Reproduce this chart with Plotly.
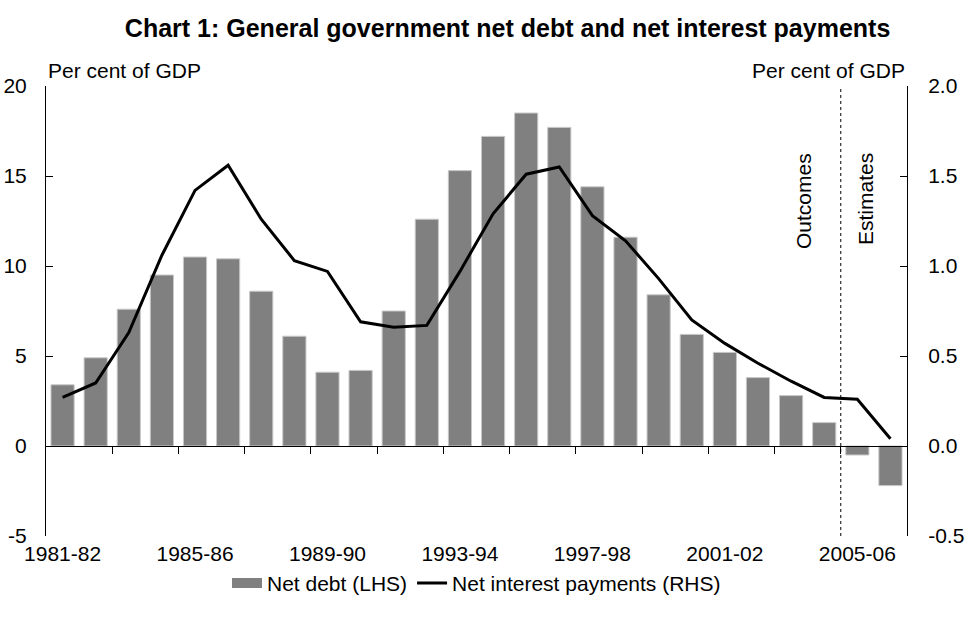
import numpy as np
import plotly.graph_objects as go

# Financial years shown on the category axis
years = [
    "1981-82", "1982-83", "1983-84", "1984-85", "1985-86", "1986-87",
    "1987-88", "1988-89", "1989-90", "1990-91", "1991-92", "1992-93",
    "1993-94", "1994-95", "1995-96", "1996-97", "1997-98", "1998-99",
    "1999-00", "2000-01", "2001-02", "2002-03", "2003-04", "2004-05",
    "2005-06", "2006-07",
]

# General government net debt, per cent of GDP (left axis)
net_debt = [
    3.4, 4.9, 7.6, 9.5, 10.5, 10.4, 8.6, 6.1, 4.1, 4.2, 7.5, 12.6,
    15.3, 17.2, 18.5, 17.7, 14.4, 11.6, 8.4, 6.2, 5.2, 3.8, 2.8, 1.3,
    -0.5, -2.2,
]

# Net interest payments, per cent of GDP (right axis)
net_interest = [
    0.27, 0.35, 0.63, 1.06, 1.42, 1.56, 1.26, 1.03, 0.97, 0.69, 0.66, 0.67,
    0.97, 1.29, 1.51, 1.55, 1.28, 1.14, 0.93, 0.70, 0.57, 0.46, 0.36, 0.27,
    0.26, 0.04,
]

# First year that is a budget estimate rather than an outcome
first_estimate = "2005-06"

# Axis tick values
left_ticks = [-5, 0, 5, 10, 15, 20]
right_ticks = [-0.5, 0.0, 0.5, 1.0, 1.5, 2.0]

FONT = "Liberation Sans, Arial, sans-serif"
FS = 21
BAR_COLOR = "#808080"

left_range = [left_ticks[0], left_ticks[-1]]
right_range = [right_ticks[0], right_ticks[-1]]

idx = np.arange(len(years))
label_idx = idx[::4]
boundary_ticks = np.arange(1.5, len(years), 2)
split_x = years.index(first_estimate) - 0.5
zero_pos = (0 - left_range[0]) / (left_range[1] - left_range[0])
x_range = [-0.5, len(years) - 0.5]

fig = go.Figure()

fig.add_trace(go.Bar(
    x=idx, y=net_debt, name="Net debt (LHS)", showlegend=False,
    marker=dict(color=BAR_COLOR, line=dict(color="#c8c8c8", width=1)),
    width=0.7, xaxis="x", yaxis="y",
))

# Legend key for the bars: a wide grey block
fig.add_trace(go.Scatter(
    x=[None], y=[None], name="Net debt (LHS)", mode="lines",
    line=dict(color=BAR_COLOR, width=18), xaxis="x", yaxis="y",
))

fig.add_trace(go.Scatter(
    x=idx, y=net_interest, name="Net interest payments (RHS)",
    mode="lines", line=dict(color="black", width=3),
    xaxis="x2", yaxis="y2",
))

fig.update_layout(
    width=965, height=619,
    margin=dict(l=46, r=58, t=86, b=83, autoexpand=False),
    paper_bgcolor="white", plot_bgcolor="white",
    font=dict(family=FONT, size=FS, color="black"),
    title=dict(
        text="<b>Chart 1: General government net debt and net interest payments</b>",
        x=0.526, xanchor="center", xref="container",
        y=0.955, yanchor="middle",
        font=dict(family=FONT, size=25, color="black"),
    ),
    showlegend=True,
    legend=dict(
        orientation="h", x=0.5, xanchor="center", xref="paper",
        y=-0.105, yanchor="middle", bgcolor="rgba(0,0,0,0)",
        font=dict(family=FONT, size=FS), traceorder="normal",
        itemwidth=30,
    ),
    xaxis=dict(
        range=x_range, tickmode="array", tickvals=label_idx,
        ticktext=[years[i] for i in label_idx],
        ticks="", showline=False, showgrid=False, zeroline=False,
        tickfont=dict(size=FS), ticklabelstandoff=3,
    ),
    xaxis2=dict(
        range=x_range, overlaying="x", anchor="free", position=zero_pos,
        tickmode="array", tickvals=boundary_ticks, ticks="outside",
        ticklen=7, tickcolor="black", tickwidth=1,
        showticklabels=False, showline=True, linecolor="black",
        linewidth=1, showgrid=False, zeroline=False,
    ),
    yaxis=dict(
        range=left_range, tickmode="array", tickvals=left_ticks,
        ticktext=[f"{v:g}" for v in left_ticks],
        ticks="inside", ticklen=7,
        tickcolor="black", showline=True, linecolor="black", linewidth=1,
        showgrid=False, zeroline=False, tickfont=dict(size=FS),
        ticklabelstandoff=14,
    ),
    yaxis2=dict(
        range=right_range, tickmode="array", tickvals=right_ticks,
        ticktext=[f"{v:.1f}" for v in right_ticks],
        overlaying="y", side="right", anchor="x",
        ticks="inside", ticklen=7, tickcolor="black",
        showline=True, linecolor="black", linewidth=1,
        showgrid=False, zeroline=False, tickfont=dict(size=FS),
        ticklabelstandoff=16,
    ),
)

# Divider between outcomes and estimates
fig.add_shape(
    type="line", xref="x", yref="paper", x0=split_x, x1=split_x,
    y0=0, y1=1, line=dict(color="black", width=1, dash="dot"),
)

fig.add_annotation(
    text="Outcomes", xref="x", yref="paper", x=split_x, y=0.855,
    xshift=-38, textangle=-90, showarrow=False,
    font=dict(family=FONT, size=FS),
)
fig.add_annotation(
    text="Estimates", xref="x", yref="paper", x=split_x, y=0.855,
    xshift=24, textangle=-90, showarrow=False,
    font=dict(family=FONT, size=FS),
)

fig.add_annotation(
    text="Per cent of GDP", xref="paper", yref="paper", x=0, y=1,
    xanchor="left", yanchor="bottom", yshift=2, showarrow=False,
    font=dict(family=FONT, size=FS),
)
fig.add_annotation(
    text="Per cent of GDP", xref="paper", yref="paper", x=1, y=1,
    xanchor="right", yanchor="bottom", yshift=2, showarrow=False,
    font=dict(family=FONT, size=FS),
)

fig.write_html("out.html")
